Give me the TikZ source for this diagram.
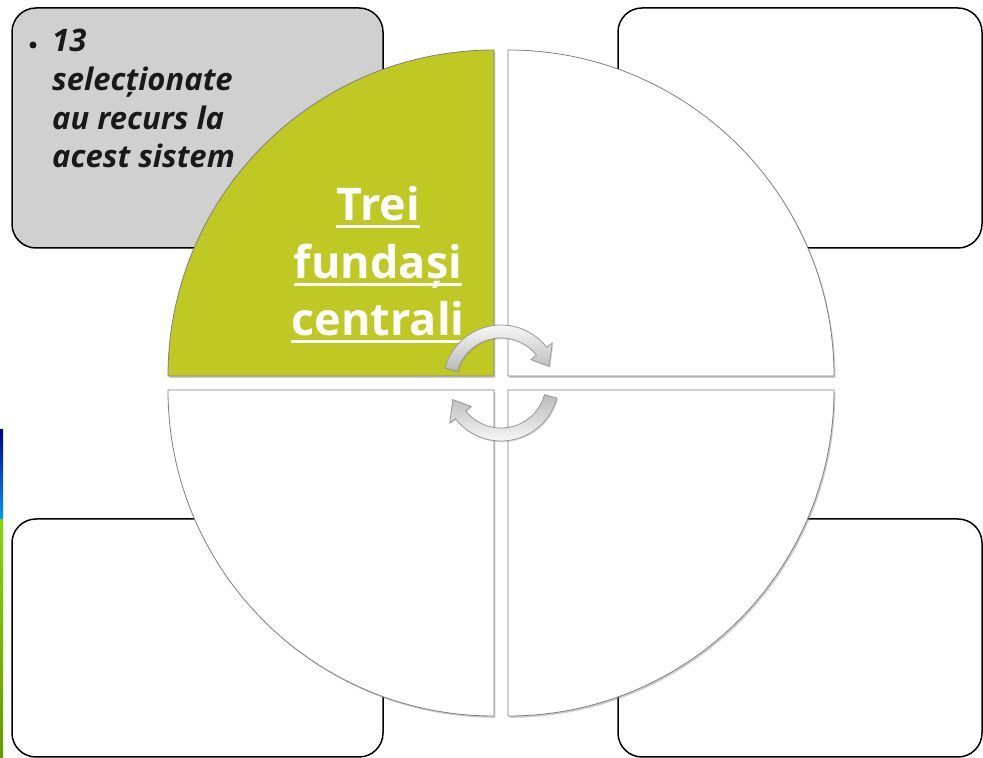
\documentclass[tikz,border=0pt]{standalone}
\usepackage{fontspec}
\setmainfont{Open Sans}
\usepackage{tikz}
\usetikzlibrary{calc,shadows}

\definecolor{quadgreen}{RGB}{192,200,35}
\definecolor{boxgray}{RGB}{208,208,208}
\definecolor{rimgray}{RGB}{128,128,128}

\begin{document}
\begin{tikzpicture}[x=1pt,y=1pt]
\tikzstyle{every node}+=[inner sep=0pt]
\tikzstyle{box}=[draw=black,line width=1.5pt,rounded corners=24pt,fill=white]
\tikzstyle{quad}=[draw=rimgray,line width=0.8pt,fill=white,drop shadow={shadow xshift=1.4pt,shadow yshift=-1.8pt,opacity=0.4}]
\tikzstyle{turn}=[draw=gray!80,line width=0.8pt,drop shadow={shadow xshift=1pt,shadow yshift=-1.2pt,opacity=0.3}]
\tikzstyle{bultext}=[font=\fontsize{31}{37}\selectfont\bfseries\itshape,anchor=base west,text=black!90]
\tikzstyle{titletext}=[font=\fontsize{45}{57}\selectfont\bfseries,text=white,anchor=base]
\tikzstyle{uline}=[draw=white,line width=3pt]
\useasboundingbox (0,0) rectangle (983,758);
% strip of a picture at the left edge
\shade[top color=blue!55!black,bottom color=cyan!60!blue] (0,238) rectangle (3,328);
\shade[top color=yellow!60!green!85!black,bottom color=olive!80!green] (0,0) rectangle (3,238);
% four boxes behind the circle
\node[box,fill=boxgray,minimum width=371pt,minimum height=240pt] (boxtl) at (197.5,630) {};
\node[box,minimum width=364pt,minimum height=240pt] (boxtr) at (800,630) {};
\node[box,minimum width=371pt,minimum height=238pt] (boxbl) at (197.5,120) {};
\node[box,minimum width=364pt,minimum height=238pt] (boxbr) at (800,120) {};
\node[bultext] (l1) at (52,706) {13};
\node[bultext] (l2) at (52,667) {selecționate};
\node[bultext] (l3) at (52,628) {au recurs la};
\node[bultext] (l4) at (52,590) {acest sistem};
\node[circle,fill=black!90,minimum size=7pt] (dot) at (33,713) {};
% circle in four quarters
\path[quad,fill=quadgreen] (494,382) -- (168,382) arc[start angle=180,end angle=90,radius=326] -- cycle;
\path[quad] (508,382) -- (508,708) arc[start angle=90,end angle=0,radius=326] -- cycle;
\path[quad] (494,368) -- (168,368) arc[start angle=180,end angle=270,radius=326] -- cycle;
\path[quad] (508,368) -- (834,368) arc[start angle=0,end angle=-90,radius=326] -- cycle;
\node[titletext] (t1) at (378,537) {Trei};
\node[titletext] (t2) at (378,479) {fundași};
\node[titletext] (t3) at (378,422) {centrali};
\draw[uline] ([yshift=-6pt]t1.base west) -- ([yshift=-6pt]t1.base east);
\draw[uline] ([yshift=-6pt]t2.base west) -- ([yshift=-6pt]t2.base east);
\draw[uline] ([yshift=-6pt]t3.base west) -- ([yshift=-6pt]t3.base east);
% the two turning arrows
\coordinate (mid) at (501,375);
\path[turn,top color=white,bottom color=gray!55] ($(mid)+(165:58)$) arc[start angle=165,end angle=38,radius=58]
  -- ($(mid)+(38:65)$) -- ($(mid)+(19:51)$) -- ($(mid)+(38:38)$) -- ($(mid)+(38:45)$)
  arc[start angle=38,end angle=165,radius=45] -- cycle;
\path[turn,top color=gray!55,bottom color=white] ($(mid)+(345:58)$) arc[start angle=345,end angle=218,radius=58]
  -- ($(mid)+(218:65)$) -- ($(mid)+(199:51)$) -- ($(mid)+(218:38)$) -- ($(mid)+(218:45)$)
  arc[start angle=218,end angle=345,radius=45] -- cycle;
\end{tikzpicture}
\end{document}
